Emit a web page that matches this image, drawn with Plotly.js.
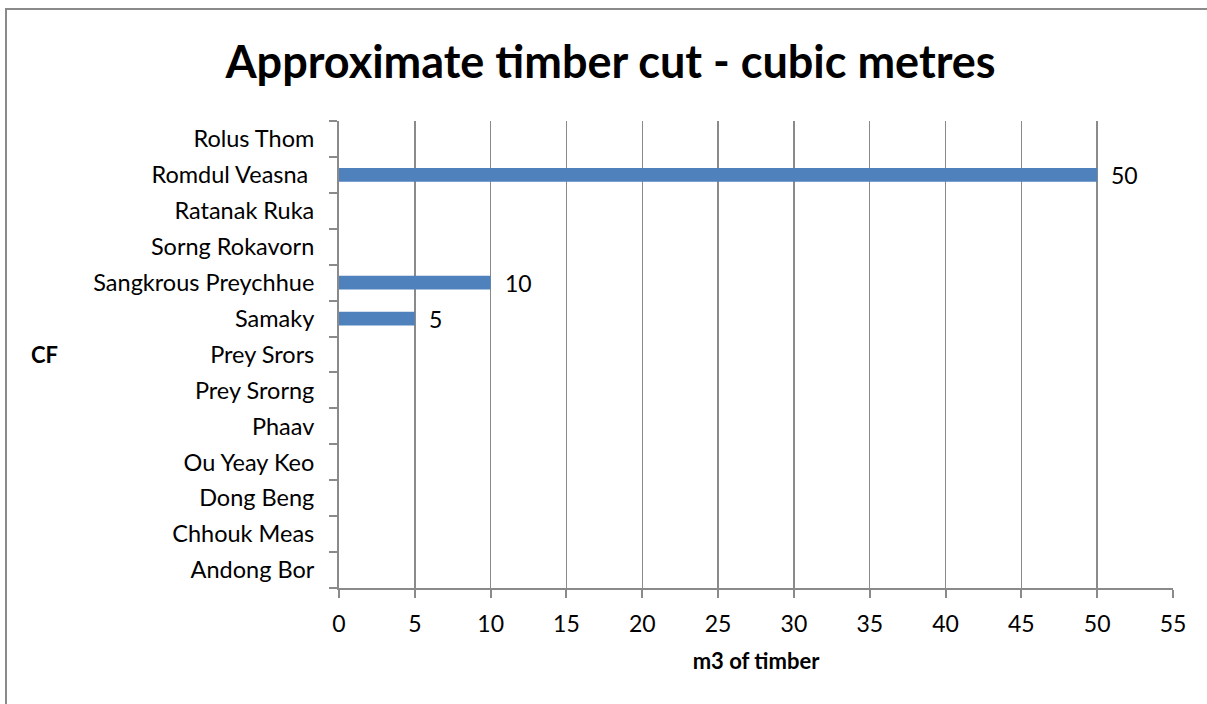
<!DOCTYPE html>
<html>
<head>
<meta charset="utf-8">
<script src="https://cdn.plot.ly/plotly-3.0.1.min.js"></script>
<style>
  html, body { margin: 0; padding: 0; background: #fff; }
  #wrap { position: relative; width: 1207px; height: 704px; overflow: hidden; }
  #chart { position: absolute; left: 0; top: 0; width: 1207px; height: 704px; }
  #frame { position: absolute; left: 5px; top: 8px; width: 1300px; height: 800px;
           border-left: 2px solid #8a8a8a; border-top: 2px solid #8a8a8a; pointer-events: none; }
</style>
</head>
<body>
<div id="wrap">
  <div id="chart"></div>
  <div id="frame"></div>
</div>
<script>
const categories = ["Andong Bor", "Chhouk Meas", "Dong Beng", "Ou Yeay Keo", "Phaav",
  "Prey Srorng", "Prey Srors", "Samaky", "Sangkrous Preychhue", "Sorng Rokavorn",
  "Ratanak Ruka", "Romdul Veasna ", "Rolus Thom"];
const values = [null, null, null, null, null, null, null, 5, 10, null, null, 50, null];
const xTicks = [0, 5, 10, 15, 20, 25, 30, 35, 40, 45, 50, 55];

const FONT = "Lato, 'Open Sans', sans-serif";

const trace = {
  type: "bar",
  orientation: "h",
  y: categories,
  x: values,
  marker: { color: "#4F81BD" },
  hoverinfo: "none",
  cliponaxis: false
};

const annotations = [];
values.forEach((v, i) => {
  if (v !== null) {
    annotations.push({
      x: v, y: categories[i], xref: "x", yref: "y",
      text: String(v), showarrow: false, xanchor: "left", xshift: 12,
      font: { family: FONT, size: 23, color: "#000" }
    });
  }
});
annotations.push({
  xref: "paper", yref: "paper", x: -0.372, y: 0.5, xanchor: "left",
  text: "<b>CF</b>", showarrow: false,
  font: { family: FONT, size: 22, color: "#000" }
});

const layout = {
  width: 1207, height: 704,
  margin: { l: 339, r: 34, t: 121, b: 116 },
  paper_bgcolor: "#fff", plot_bgcolor: "#fff",
  showlegend: false,
  bargap: 0.62,
  title: {
    text: "<b>Approximate timber cut - cubic metres</b>",
    font: { family: FONT, size: 45, color: "#000" },
    x: 0.5058, xanchor: "center", y: 0.912, yanchor: "middle"
  },
  xaxis: {
    range: [0, 55], tickvals: xTicks, ticktext: xTicks.map(String),
    showgrid: true, gridcolor: "#8a8a8a", gridwidth: 1.5,
    showline: true, linecolor: "#8a8a8a", linewidth: 2,
    ticks: "outside", ticklen: 8, tickcolor: "#8a8a8a", tickwidth: 2,
    ticklabelstandoff: 6,
    tickfont: { family: FONT, size: 23, color: "#000" },
    zeroline: false, fixedrange: true,
    title: { text: "<b>m3 of timber</b>", font: { family: FONT, size: 22, color: "#000" }, standoff: 18 }
  },
  yaxis: {
    type: "category",
    showgrid: false,
    showline: true, linecolor: "#8a8a8a", linewidth: 2,
    ticks: "outside", ticklen: 8, tickcolor: "#8a8a8a", tickwidth: 2,
    tickson: "boundaries",
    ticklabelstandoff: 18,
    tickfont: { family: FONT, size: 23.5, color: "#000" },
    zeroline: false, fixedrange: true
  },
  annotations: annotations
};

Plotly.newPlot("chart", [trace], layout, { staticPlot: true, displayModeBar: false });
</script>
</body>
</html>
